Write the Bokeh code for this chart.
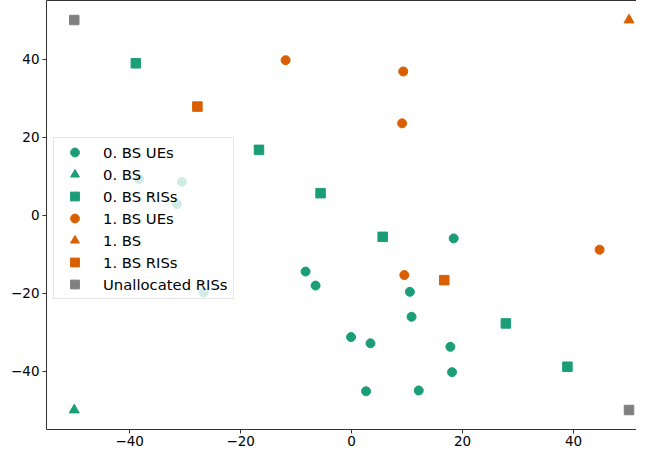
from bokeh.plotting import figure
from bokeh.models import Legend, LegendItem, LinearAxis, FixedTicker, CustomJSTickFormatter, Range1d
from bokeh.embed import file_html
from bokeh.resources import INLINE

# ---- data ----
ue0_x = [18.4, -8.3, -6.5, 10.5, 10.8, -0.1, 3.4, 17.8, 18.1, 2.6, 12.1, -26.7, -38.3, -30.6, -31.5]
ue0_y = [-6.0, -14.5, -18.1, -19.7, -26.1, -31.3, -32.9, -33.8, -40.3, -45.2, -45.0, -19.9, 9.2, 8.5, 2.8]
bs0_x = [-50]
bs0_y = [-50]
ris0_x = [-38.9, -16.7, -5.6, 5.6, 27.8, 38.9]
ris0_y = [38.9, 16.7, 5.6, -5.6, -27.8, -38.9]
ue1_x = [-11.9, 9.3, 9.1, 9.5, 44.7]
ue1_y = [39.7, 36.8, 23.5, -15.4, -8.9]
bs1_x = [50]
bs1_y = [50]
ris1_x = [-27.8, 16.7]
ris1_y = [27.8, -16.7]
unalloc_x = [-50, 50]
unalloc_y = [50, -50]
tick_values = [-40, -20, 0, 20, 40]
labels = ["0. BS UEs", "0. BS", "0. BS RISs", "1. BS UEs", "1. BS", "1. BS RISs", "Unallocated RISs"]

GREEN = "#1b9e77"
ORANGE = "#d95f02"
GREY = "#808080"
FONT = "DejaVu Sans"
SPINE = "#333333"

p = figure(width=636, height=448, output_backend="svg", toolbar_location=None,
           x_range=Range1d(-55, 51.35), y_range=Range1d(-55, 55),
           min_border_left=46, min_border_right=0, min_border_top=0, min_border_bottom=0)
p.outline_line_color = None
p.xgrid.visible = False
p.ygrid.visible = False

fmt = CustomJSTickFormatter(code="return tick < 0 ? '\\u2212' + Math.abs(tick) : tick.toString();")
for ax in (p.xaxis[0], p.yaxis[0]):
    ax.ticker = FixedTicker(ticks=tick_values)
    ax.formatter = fmt
    ax.major_tick_out = 4
    ax.major_tick_in = 0
    ax.minor_tick_line_color = None
    ax.axis_line_color = SPINE
    ax.major_tick_line_color = SPINE
    ax.major_label_text_font = FONT
    ax.major_label_text_font_size = "13.5px"
    ax.major_label_text_color = "black"
    ax.major_label_standoff = 3
p.xaxis[0].major_label_standoff = 2

top = LinearAxis(ticker=FixedTicker(ticks=[]), major_label_text_font_size="0px",
                 major_tick_out=0, major_tick_in=0, minor_tick_out=0, minor_tick_in=0,
                 major_label_standoff=0, axis_line_color=SPINE)
p.add_layout(top, "above")

series = [
    (ue0_x, ue0_y, "circle", GREEN, 9),
    (bs0_x, bs0_y, "triangle", GREEN, 10),
    (ris0_x, ris0_y, "square", GREEN, 9.5),
    (ue1_x, ue1_y, "circle", ORANGE, 9),
    (bs1_x, bs1_y, "triangle", ORANGE, 10),
    (ris1_x, ris1_y, "square", ORANGE, 9.5),
    (unalloc_x, unalloc_y, "square", GREY, 9.5),
]
items = []
for (xs, ys, mk, col, sz), lab in zip(series, labels):
    r = p.scatter(xs, ys, marker=mk, size=sz, fill_color=col, line_color=col)
    items.append(LegendItem(label=lab, renderers=[r]))

legend = Legend(items=items, location=(7, 130), glyph_width=35, glyph_height=22,
                label_height=22, label_width=127, spacing=0, padding=3, margin=0, label_standoff=11,
                label_text_font=FONT, label_text_font_size="14.8px", label_text_color="black",
                border_line_color="#cccccc", border_line_width=1,
                background_fill_color="white", background_fill_alpha=0.8)
p.add_layout(legend)

open("out.html", "w").write(file_html(p, INLINE))
